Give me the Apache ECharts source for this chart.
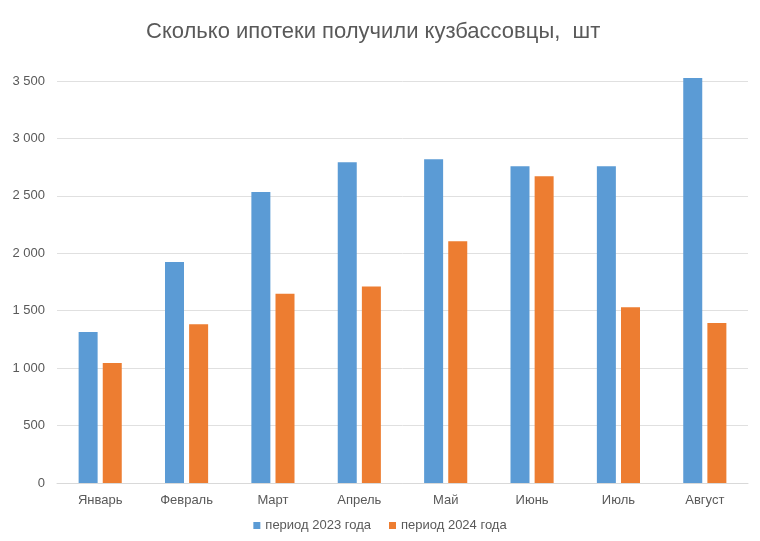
<!DOCTYPE html>
<html><head><meta charset="utf-8">
<script src="https://cdn.jsdelivr.net/npm/echarts@6/dist/echarts.min.js"></script>
<style>html,body{margin:0;padding:0;background:#fff}#c{width:760px;height:541px}</style>
</head><body><div id="c"></div>
<script>
var categories = ["Январь","Февраль","Март","Апрель","Май","Июнь","Июль","Август"];
var series2023 = [1314,1925,2534,2792,2819,2758,2758,3526];
var series2024 = [1044,1383,1647,1711,2105,2671,1531,1394];
var seriesNames = ["период 2023 года","период 2024 года"];
var chart = echarts.init(document.getElementById('c'));
function fmt(v){ return String(v).replace(/\B(?=(\d{3})+(?!\d))/g,' '); }
chart.setOption({
  animation:false,
  backgroundColor:'#fff',
  title:{text:'Сколько ипотеки получили кузбассовцы,  шт',left:141,top:16,
    textStyle:{fontFamily:'Liberation Sans, Arial',fontSize:22,fontWeight:'normal',color:'#595959'}},
  legend:{bottom:4,left:'center',itemWidth:7,itemHeight:7,itemGap:18,icon:'rect',
    textStyle:{fontFamily:'Liberation Sans, Arial',fontSize:13,color:'#595959'}},
  grid:{left:57,right:12,top:81,bottom:58},
  xAxis:{type:'category',data:categories,
    axisLine:{lineStyle:{color:'#d9d9d9'}},axisTick:{show:false},
    axisLabel:{fontFamily:'Liberation Sans, Arial',fontSize:13,color:'#595959',margin:11}},
  yAxis:{type:'value',min:0,max:3500,interval:500,
    axisLine:{show:false},axisTick:{show:false},
    splitLine:{lineStyle:{color:'#e0e0e0'}},
    axisLabel:{fontFamily:'Liberation Sans, Arial',fontSize:13,color:'#595959',margin:12,formatter:fmt}},
  series:[
    {name:seriesNames[0],type:'bar',clip:false,data:series2023,itemStyle:{color:'#5b9bd5'},barWidth:19,barGap:'27%'},
    {name:seriesNames[1],type:'bar',clip:false,data:series2024,itemStyle:{color:'#ed7d31'},barWidth:19}
  ]
});
</script></body></html>
